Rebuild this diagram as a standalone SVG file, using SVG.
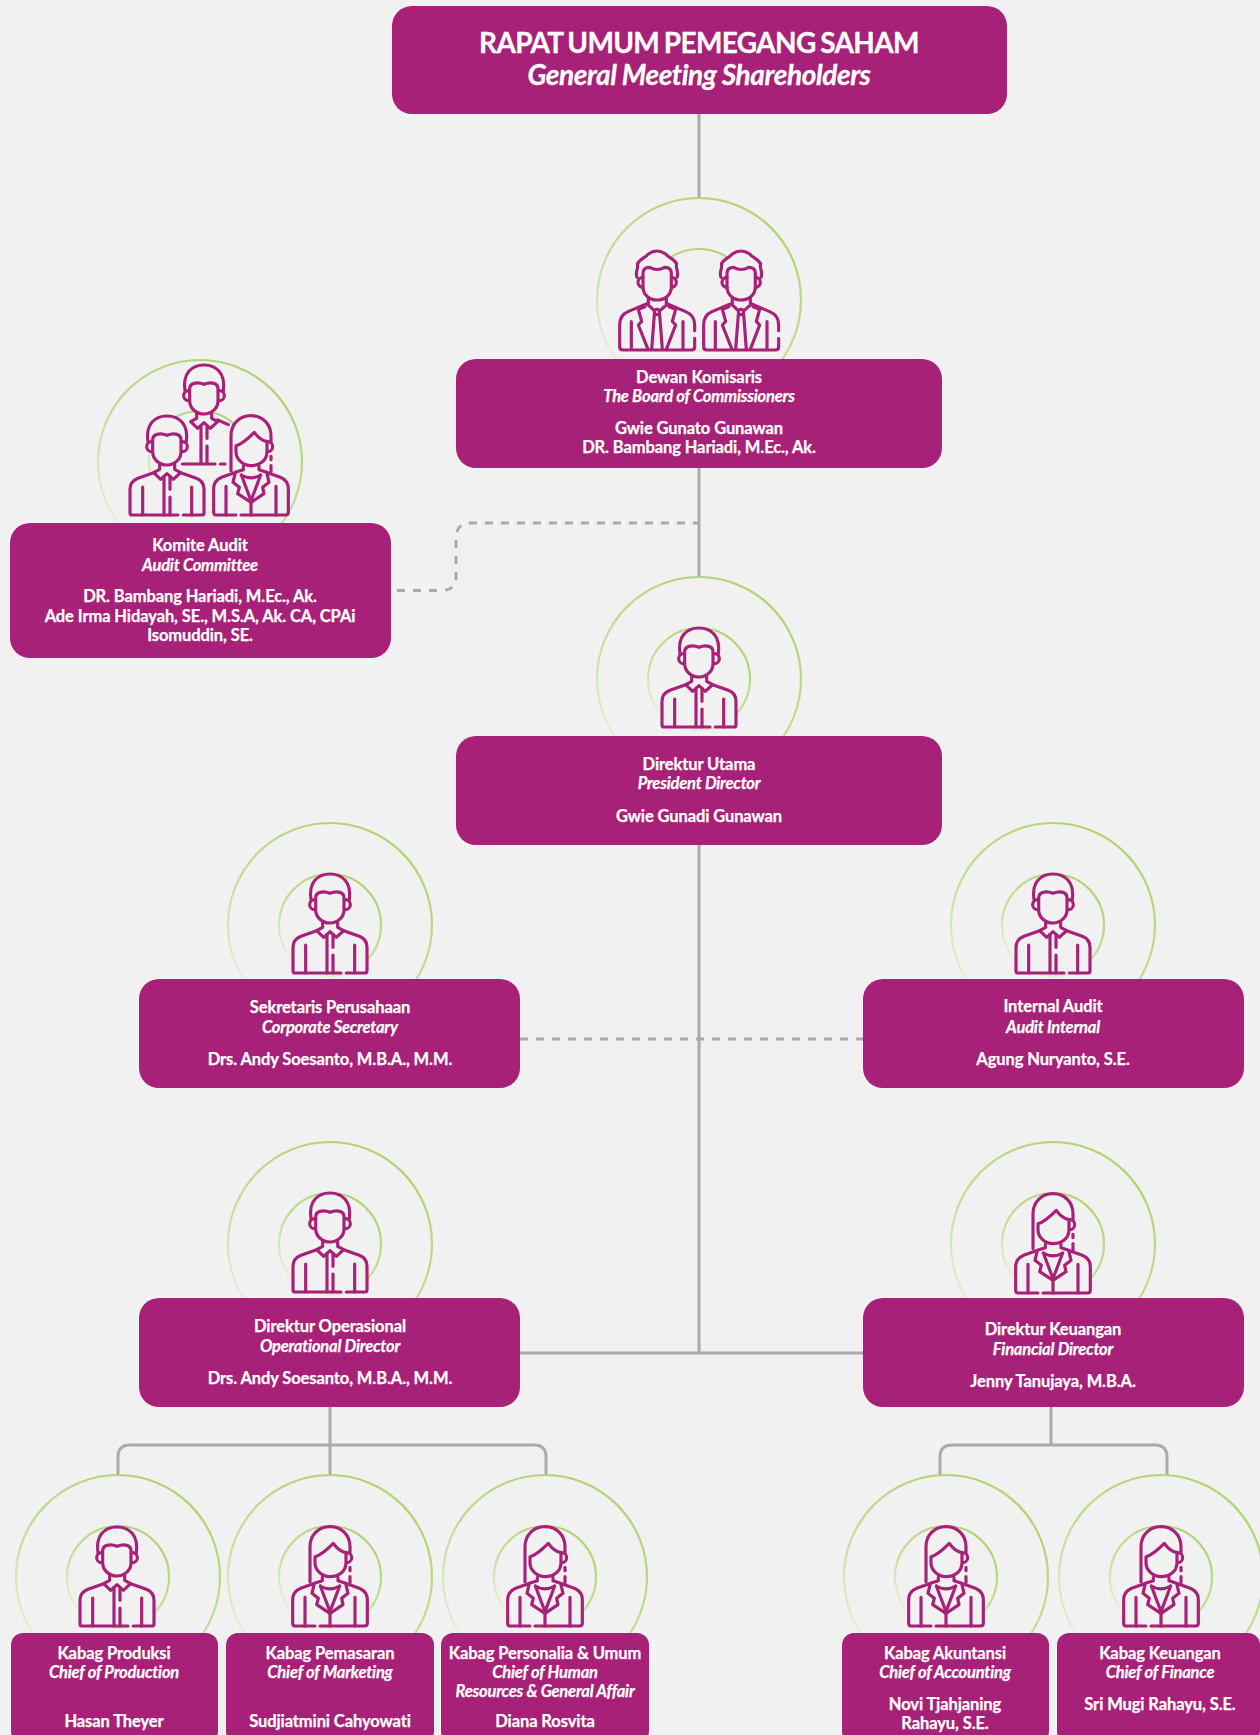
<svg xmlns="http://www.w3.org/2000/svg" width="1260" height="1735" viewBox="0 0 1260 1735">
<style>
.bg{fill:#f1f1f1}
.box{fill:#a62177}
.t{font-family:Lato,"Liberation Sans",sans-serif;font-weight:700;fill:#fff;stroke:#fff;stroke-width:.25;text-anchor:middle;font-size:16.5px;letter-spacing:-.1px}
.i{font-style:italic;letter-spacing:-.2px}
.h{font-size:28px;letter-spacing:-.65px;word-spacing:-1.5px;stroke-width:.3}
.hi{font-size:28px;letter-spacing:-.4px;word-spacing:-.5px;stroke-width:.3}
.ring{fill:none;stroke:url(#rg);stroke-width:2.2}
.ic{fill:none;stroke:#a62177;stroke-width:9.5;stroke-linecap:round;stroke-linejoin:round}
.sil{fill:#f1f1f1;stroke:none}
.ln{fill:none;stroke:#aaaaac;stroke-width:3}
.da{stroke-dasharray:8 8}
</style>
<defs>
<linearGradient id="rg" x1="0.75" y1="0.05" x2="0.2" y2="0.95">
<stop offset="0" stop-color="#aed46f"/><stop offset="0.55" stop-color="#c4de9a"/><stop offset="1" stop-color="#ecf2e0"/>
</linearGradient>
<g id="rings"><circle class="ring" r="102"/><circle class="ring" r="51"/></g>
<g id="man" transform="scale(0.3333) translate(-327,-172)" class="ic">
<path class="sil" d="M268 250C262 200 290 175 327 175C364 175 392 200 385 250L395 270L370 300L350 335L415 362C430 368 438 380 438 395L438 472L216 472L216 395C216 380 225 368 240 362L305 335L284 300L258 270Z"/>
<path d="M270 252C262 200 290 175 327 175C364 175 392 200 385 252"/>
<path d="M281 252A13 13 0 1 0 281 282M373 252A13 13 0 1 1 373 282"/>
<path d="M284 246C284 230 305 224 327 233C350 224 369 230 369 246L369 282C369 305 350 322 327 322C304 322 284 305 284 282Z"/>
<path d="M305 320L305 335L287 345L308 365L327 348L346 365L368 345L350 335L350 320"/>
<path d="M287 345L240 362C225 368 216 380 216 395L216 465Q216 472 222 472L360 472M376 472L432 472Q438 472 438 465L438 395C438 380 430 368 415 362L368 345"/>
<path d="M254 388L254 472M401 388L401 472M318 356L318 472M336 356L336 395M336 418L336 472"/>
</g>
<g id="woman" transform="scale(0.3333) translate(-310,-158)" class="ic">
<path class="sil" d="M250 325L250 220C250 185 275 160 310 160C345 160 370 185 370 220L378 253L370 328L398 345C415 352 422 362 422 380L422 458L198 458L198 380C198 362 205 352 222 345Z"/>
<path d="M250 325L250 220C250 185 275 160 310 160C345 160 370 185 370 220L370 238M370 282L370 292M370 310L370 328"/>
<path d="M360 238A14 14 0 0 1 360 268"/>
<path d="M265 250C285 245 305 225 320 210C330 225 345 235 358 238L358 268C358 295 335 310 310 310C285 310 265 290 265 268Z"/>
<path d="M287 312L287 322L263 330L256 360L275 375L270 394L310 420L349 394L345 375L364 360L357 330L334 322L334 312"/>
<path d="M281 338Q310 355 339 338M281 338L310 415L339 338"/>
<path d="M258 332L222 345C205 352 198 362 198 380L198 450Q198 458 205 458L265 458M280 458L414 458Q422 458 422 450L422 380C422 362 415 352 398 345L362 332"/>
<path d="M235 372L235 458M385 372L385 458M310 420L310 458"/>
</g>
<g id="suit" transform="scale(0.3333) translate(-232,-180)" class="ic">
<path class="sil" d="M172 262C165 245 178 235 173 222C180 206 196 204 206 192Q232 174 258 192C268 204 284 206 291 222C286 235 299 245 292 262L300 280L275 300L264 342L318 365C335 372 345 385 345 405L345 480L120 480L120 405C120 385 128 372 145 365L200 342L190 300L165 280Z"/>
<path d="M172 262C165 245 178 235 173 222C180 206 196 204 206 192Q232 174 258 192C268 204 284 206 291 222C286 235 299 245 292 262"/>
<path d="M190 262A15 15 0 1 0 190 292M275 262A15 15 0 1 1 275 292"/>
<path d="M190 250Q190 232 210 232Q232 245 255 232Q275 232 275 250L275 290C275 315 255 330 232 330C210 330 190 315 190 290Z"/>
<path d="M206 326L206 345L224 362M260 326L260 345L241 362"/>
<circle cx="232" cy="366" r="8"/>
<path d="M200 342L145 365C128 372 120 385 120 405L120 470Q120 480 130 480L335 480Q345 480 345 470L345 445M345 422L345 405C345 385 335 372 318 365L264 342"/>
<path d="M196 350L176 358L186 394L176 405L205 478M268 350L288 358L278 394L288 405L260 478"/>
<path d="M224 374L216 478M240 374L248 478M155 395L155 478M310 395L310 478"/>
</g>
</defs>
<rect class="bg" width="1260" height="1735"/>
<g id="connectors">
<path class="ln" d="M699 114V198M699 467V577M699 844V1353M520 1353H863"/>
<path class="ln da" d="M397 590.5H441Q456 590.5 456 577V538Q456 523 471 523H699"/>
<path class="ln da" d="M520 1039H863"/>
<path class="ln" d="M330 1406V1476M118 1476V1457Q118 1445 130 1445H534Q546 1445 546 1457V1476"/>
<path class="ln" d="M1051 1406V1445M940 1476V1457Q940 1445 952 1445H1155Q1167 1445 1167 1457V1476"/>
</g>
<g id="rups"><rect class="box" x="392" y="6" width="615" height="108" rx="20"/>
<text class="t h" x="699" y="53">RAPAT UMUM PEMEGANG SAHAM</text><text class="t hi i" x="699" y="84.5">General Meeting Shareholders</text></g>
<g id="komisaris"><use href="#rings" x="699" y="300"/><use href="#suit" x="657" y="250"/><use href="#suit" x="741" y="250"/>
<rect class="box" x="456" y="359" width="486" height="109" rx="20"/>
<text class="t" x="699" y="383">Dewan Komisaris</text><text class="t i" x="699" y="402">The Board of Commissioners</text><text class="t" x="699" y="434">Gwie Gunato Gunawan</text><text class="t" x="699" y="453">DR. Bambang Hariadi, M.Ec., Ak.</text></g>
<g id="komite"><use href="#rings" x="200" y="462"/>
<g class="ic" transform="translate(204,364) scale(0.3333) translate(-327,-172)">
<path class="sil" d="M268 250C262 200 290 175 327 175C364 175 392 200 385 250L395 270L369 300L327 322L284 300L258 270Z"/>
<path d="M270 252C262 200 290 175 327 175C364 175 392 200 385 252"/><path d="M281 252A13 13 0 1 0 281 282M373 252A13 13 0 1 1 373 282"/>
<path d="M284 246C284 230 305 224 327 233C350 224 369 230 369 246L369 282C369 305 350 322 327 322C304 322 284 305 284 282Z"/>
<path d="M305 320L305 335L287 345L308 365L327 348L346 365L368 345L350 335L350 320M368 340L400 354M318 356L318 472M336 356L336 395M336 418L336 472M262 472L360 472M376 472L390 472"/>
</g>
<use href="#man" x="167" y="415"/><use href="#woman" x="251" y="415"/>
<rect class="box" x="10" y="523" width="381" height="135" rx="20"/>
<text class="t" x="200" y="551">Komite Audit</text><text class="t i" x="200" y="571">Audit Committee</text><text class="t" x="200" y="602">DR. Bambang Hariadi, M.Ec., Ak.</text><text class="t" x="200" y="622">Ade Irma Hidayah, SE., M.S.A, Ak. CA, CPAi</text><text class="t" x="200" y="641">Isomuddin, SE.</text></g>
<g id="dirut"><use href="#rings" x="699" y="679"/><use href="#man" x="699" y="627"/>
<rect class="box" x="456" y="736" width="486" height="109" rx="20"/>
<text class="t" x="699" y="770">Direktur Utama</text><text class="t i" x="699" y="789">President Director</text><text class="t" x="699" y="822">Gwie Gunadi Gunawan</text></g>
<g id="sekretaris"><use href="#rings" x="330" y="925"/><use href="#man" x="330" y="873"/>
<rect class="box" x="139" y="979" width="381" height="109" rx="20"/>
<text class="t" x="330" y="1013">Sekretaris Perusahaan</text><text class="t i" x="330" y="1033">Corporate Secretary</text><text class="t" x="330" y="1065">Drs. Andy Soesanto, M.B.A., M.M.</text></g>
<g id="internal"><use href="#rings" x="1053" y="925"/><use href="#man" x="1053" y="873"/>
<rect class="box" x="863" y="979" width="381" height="109" rx="20"/>
<text class="t" x="1053" y="1012">Internal Audit</text><text class="t i" x="1053" y="1033">Audit Internal</text><text class="t" x="1053" y="1065">Agung Nuryanto, S.E.</text></g>
<g id="operasional"><use href="#rings" x="330" y="1244"/><use href="#man" x="330" y="1192"/>
<rect class="box" x="139" y="1298" width="381" height="109" rx="20"/>
<text class="t" x="330" y="1332">Direktur Operasional</text><text class="t i" x="330" y="1352">Operational Director</text><text class="t" x="330" y="1384">Drs. Andy Soesanto, M.B.A., M.M.</text></g>
<g id="keuangan"><use href="#rings" x="1053" y="1244"/><use href="#woman" x="1053" y="1193"/>
<rect class="box" x="863" y="1298" width="381" height="109" rx="20"/>
<text class="t" x="1053" y="1335">Direktur Keuangan</text><text class="t i" x="1053" y="1355">Financial Director</text><text class="t" x="1053" y="1387">Jenny Tanujaya, M.B.A.</text></g>
<g id="produksi"><use href="#rings" x="118" y="1577"/><use href="#man" x="117" y="1526"/>
<rect class="box" x="11" y="1633" width="207" height="110" rx="12"/>
<text class="t" x="114" y="1659">Kabag Produksi</text><text class="t i" x="114" y="1678">Chief of Production</text><text class="t" x="114" y="1727">Hasan Theyer</text></g>
<g id="pemasaran"><use href="#rings" x="330" y="1577"/><use href="#woman" x="330" y="1526"/>
<rect class="box" x="226" y="1633" width="208" height="110" rx="12"/>
<text class="t" x="330" y="1659">Kabag Pemasaran</text><text class="t i" x="330" y="1678">Chief of Marketing</text><text class="t" x="330" y="1727">Sudjiatmini Cahyowati</text></g>
<g id="personalia"><use href="#rings" x="545" y="1577"/><use href="#woman" x="545" y="1526"/>
<rect class="box" x="441" y="1633" width="208" height="110" rx="12"/>
<text class="t" x="545" y="1659">Kabag Personalia &amp; Umum</text><text class="t i" x="545" y="1678">Chief of Human</text><text class="t i" x="545" y="1697">Resources &amp; General Affair</text><text class="t" x="545" y="1727">Diana Rosvita</text></g>
<g id="akuntansi"><use href="#rings" x="946" y="1577"/><use href="#woman" x="946" y="1526"/>
<rect class="box" x="842" y="1633" width="207" height="110" rx="12"/>
<text class="t" x="945" y="1659">Kabag Akuntansi</text><text class="t i" x="945" y="1678">Chief of Accounting</text><text class="t" x="945" y="1710">Novi Tjahjaning</text><text class="t" x="945" y="1729">Rahayu, S.E.</text></g>
<g id="keu2"><use href="#rings" x="1161" y="1577"/><use href="#woman" x="1161" y="1526"/>
<rect class="box" x="1057" y="1633" width="203" height="110" rx="12"/>
<text class="t" x="1160" y="1659">Kabag Keuangan</text><text class="t i" x="1160" y="1678">Chief of Finance</text><text class="t" x="1160" y="1710">Sri Mugi Rahayu, S.E.</text></g>
</svg>
